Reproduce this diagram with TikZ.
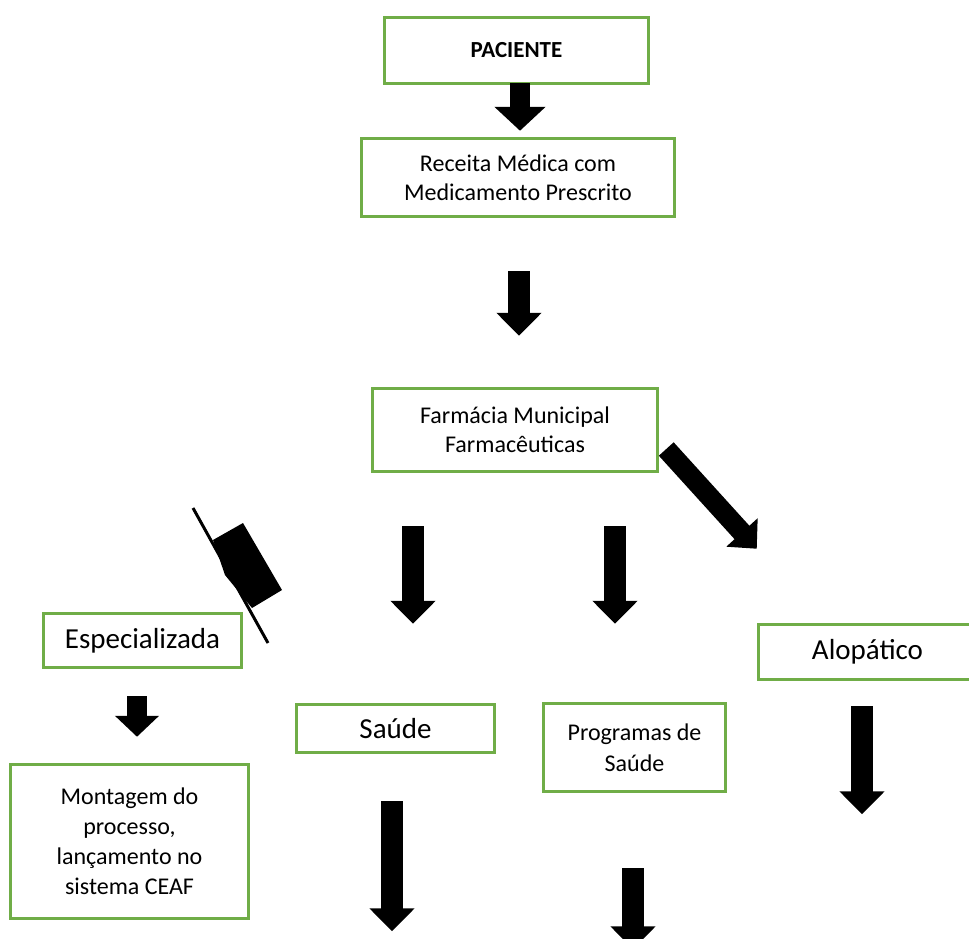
\documentclass[tikz,border=0pt]{standalone}
\usepackage{fontspec}
\setmainfont{Carlito}
\usepackage{tikz}
\usetikzlibrary{arrows.meta,positioning,calc}
\definecolor{verdeborda}{RGB}{112,173,71}

\begin{document}
\begin{tikzpicture}[x=1pt, y=-1pt,
    caixa/.style={rectangle, draw=verdeborda, line width=2.5pt, fill=white,
                  inner sep=0pt, align=center,
                  font=\fontsize{24}{29}\selectfont},
    caixagrande/.style={caixa, font=\fontsize{29}{35}\selectfont},
    seta/.style={line width=22pt, -{Triangle[width=44pt, length=23pt]}},
    setafina/.style={line width=20pt, -{Triangle[width=43pt, length=21pt]}}
  ]
    \useasboundingbox (0,0) rectangle (969,938);

    \node[caixa, minimum width=264pt, minimum height=66pt,
          font=\fontsize{23}{28}\selectfont\bfseries] (paciente) at (516.5,50.5) {PACIENTE};
    \node[caixa, minimum width=313pt, minimum height=78pt] (receita) at (518,177.5)
        {Receita Médica com\\Medicamento Prescrito};
    \node[caixa, minimum width=285pt, minimum height=83pt] (farmacia) at (515,430)
        {Farmácia Municipal\\Farmacêuticas};
    \node[caixagrande, minimum width=198pt, minimum height=54pt] (especializada) at (142.5,640.5)
        {Especializada};
    \node[caixa, minimum width=238pt, minimum height=154pt,
          font=\fontsize{24}{30}\selectfont] (montagem) at (129.5,841.5)
        {Montagem do\\processo,\\lançamento no\\sistema CEAF};
    \node[caixagrande, minimum width=198pt, minimum height=48pt] (saude) at (395.5,728.5)
        {Saúde};
    \node[caixa, minimum width=182pt, minimum height=88pt,
          font=\fontsize{24}{31}\selectfont] (programas) at (634.5,747.5)
        {Programas de\\Saúde};
    \node[caixagrande, minimum width=218pt, minimum height=55pt] (alopatico) at (867.5,652)
        {Alopático};

    % setas em bloco
    \draw[setafina, -{Triangle[width=50pt, length=24pt]}]
        ([xshift=3.5pt, yshift=1.5pt]paciente.south) -- ([xshift=2pt, yshift=6.5pt]receita.north);
    \draw[seta] ([xshift=1pt, yshift=-53.5pt]receita.south) -- ([xshift=4pt, yshift=51.5pt]farmacia.north);
    \draw[setafina, -{Triangle[width=41pt, length=22pt]}]
        ([xshift=7.5pt, yshift=-19pt]farmacia.east) -- ([xshift=-0.5pt, yshift=74.5pt]alopatico.north west);
    \draw[seta] ([xshift=-102pt, yshift=-53.5pt]farmacia.south) -- ([xshift=17.5pt, yshift=79.5pt]saude.north);
    \draw[seta] ([xshift=100pt, yshift=-53.5pt]farmacia.south) -- ([xshift=-19.5pt, yshift=78.5pt]programas.north);
    \draw[setafina] ([xshift=-5.5pt, yshift=-27.5pt]especializada.south) -- ([xshift=7.5pt, yshift=26.5pt]montagem.north);
    \draw[seta] ([xshift=-5.5pt, yshift=-25.5pt]alopatico.south) -- ([xshift=-5.5pt, yshift=-133.5pt]alopatico.south);
    \draw[seta] ([xshift=-3.5pt, yshift=-47.5pt]saude.south) -- ([xshift=-3.5pt, yshift=-177.5pt]saude.south);
    \draw[seta] ([xshift=-1.5pt, yshift=-75.5pt]programas.south) -- ([xshift=-1.5pt, yshift=-156.5pt]programas.south);

    % seta deformada
    \draw[line width=3pt] (193,508) -- (268,643);
    \fill (213,540) -- (243,523) -- (282,590) -- (252,608) -- (225,575) -- cycle;
\end{tikzpicture}
\end{document}
